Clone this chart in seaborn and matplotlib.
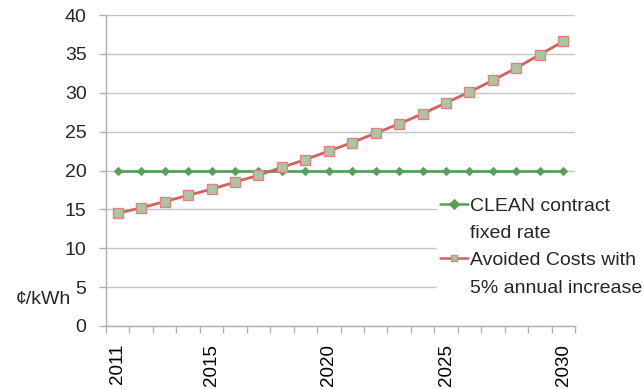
import matplotlib
matplotlib.use("Agg")
import matplotlib.pyplot as plt
from matplotlib.lines import Line2D
import seaborn as sns
import pandas as pd
import numpy as np
import copy

years = list(range(2011, 2031))
clean_fixed = [20.0] * 20
avoided = [14.5, 15.2, 16.0, 16.8, 17.6, 18.5, 19.4, 20.4, 21.4, 22.5,
           23.6, 24.8, 26.0, 27.3, 28.7, 30.1, 31.6, 33.2, 34.9, 36.6]
label_clean = ["CLEAN contract", "fixed rate"]
label_avoided = ["Avoided Costs with", "5% annual increase"]
xtick_labels = [2011, 2015, 2020, 2025, 2030]
yticks = [0, 5, 10, 15, 20, 25, 30, 35, 40]

sns.set_theme(style="white")
plt.rcParams['font.family'] = ['Liberation Sans', 'DejaVu Sans']

df = pd.DataFrame({"year": years, "clean": clean_fixed, "avoided": avoided})

fig = plt.figure(figsize=(6.44, 3.89), dpi=100)
ax = fig.add_axes([106/644, 1-326/389, (575-106)/644, (326-15)/389])

sns.lineplot(data=df, x="year", y="clean", ax=ax, color="#5a9e5a", lw=2.0,
             marker="D", markersize=4.5, markerfacecolor="#5a9e5a",
             markeredgecolor="#5a9e5a", label=label_clean[0], legend=False)
sns.lineplot(data=df, x="year", y="avoided", ax=ax, color="#d95f5f", lw=2.0,
             marker="s", markersize=7.5, markerfacecolor="#a9c6a2",
             markeredgecolor="#e08080", markeredgewidth=1.0,
             label=label_avoided[0], legend=False)

ax.set_xlim(years[0]-0.5, years[-1]+0.5)
ax.set_ylim(0, 40)
ax.set_yticks(yticks)
ax.yaxis.grid(True, color="#c4c4c4", lw=1)
ax.set_xticks(xtick_labels)
ax.set_xticklabels([str(y) for y in xtick_labels], rotation=90, fontsize=13.5)
ax.set_xticks(np.arange(years[0]-0.5, years[-1]+1.0, 1.0), minor=True)
ax.tick_params(axis="x", which="major", length=0, pad=13, colors="#000000")
ax.tick_params(axis="x", which="minor", length=5, width=1, color="#b0b0b0", direction="out", bottom=True)
ax.tick_params(axis="y", which="major", length=5, width=1, color="#b0b0b0", direction="out", left=True, labelsize=14, pad=9)
for s in ["top", "right"]:
    ax.spines[s].set_visible(False)
for s in ["left", "bottom"]:
    ax.spines[s].set_color("#b0b0b0")
    ax.spines[s].set_linewidth(1)
ax.set_xlabel("")
ax.set_ylabel("")

fig.text(16/644, 1-300/389, "¢/kWh", fontsize=14, ha="left", va="center")

handles, labels = ax.get_legend_handles_labels()
leg_handles = []
for h in handles:
    hc = copy.copy(h)
    hc.set_markersize(5)
    hc.set_linewidth(1.8)
    leg_handles.append(hc)
blank = Line2D([], [], alpha=0)
leg = fig.legend([leg_handles[0], blank, leg_handles[1], blank],
                 [label_clean[0], label_clean[1], label_avoided[0], label_avoided[1]],
                 loc="upper left",
                 bbox_to_anchor=(437/644, 1-194/389), frameon=True,
                 fontsize=14, handlelength=1.45, handletextpad=0.1,
                 labelspacing=0.5, borderpad=0.15, borderaxespad=0)
leg.get_frame().set_facecolor("white")
leg.get_frame().set_edgecolor("white")
leg.get_frame().set_alpha(1)

fig.savefig("out.png", dpi=100)
